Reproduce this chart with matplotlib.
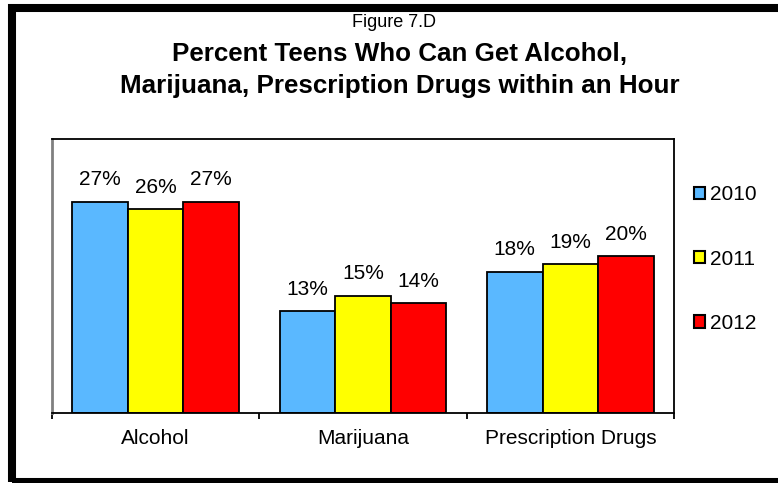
import numpy as np
import matplotlib
matplotlib.use("Agg")
import matplotlib.pyplot as plt
from matplotlib.patches import Rectangle, Patch

plt.rcParams['font.family'] = ['Liberation Sans', 'DejaVu Sans']

# data
categories = ['Alcohol', 'Marijuana', 'Prescription Drugs']
years = ['2010', '2011', '2012']
pct_2010 = [27, 13, 18]
pct_2011 = [26, 15, 19]
pct_2012 = [27, 14, 20]
colors = ['#5ab8ff', '#ffff00', '#ff0000']

series = [pct_2010, pct_2011, pct_2012]

fig = plt.figure(figsize=(7.78, 4.83), dpi=100)
ax = fig.add_axes([0.0668, 0.1449, 0.7995, 0.5673])

x = np.arange(len(categories))
w = 0.268
for i, vals in enumerate(series):
    bars = ax.bar(x + (i - 1) * w, vals, width=w, color=colors[i],
                  edgecolor='black', linewidth=1.3, label=years[i])
    for b, v in zip(bars, vals):
        ax.annotate('{}%'.format(v), (b.get_x() + b.get_width() / 2, v),
                    xytext=(0, 12), textcoords='offset points',
                    ha='center', va='baseline', fontsize=15)

ax.set_xlim(-0.5, 2.5)
ax.set_ylim(0, 35)
ax.set_yticks([])
ax.set_xticks(x)
ax.set_xticklabels(categories, fontsize=15)
ax.set_xticks([-0.5, 0.5, 1.5, 2.5], minor=True)
ax.tick_params(axis='x', which='major', length=0, pad=11.5)
ax.tick_params(axis='x', which='minor', length=4.5, width=1.3, direction='out')

for s in ['top', 'right', 'bottom']:
    ax.spines[s].set_color('black')
    ax.spines[s].set_linewidth(1.3)
ax.spines['left'].set_color('#808080')
ax.spines['left'].set_linewidth(2)

# titles
fig.text(394 / 778, 1 - 27 / 483, 'Figure 7.D', ha='center', va='baseline', fontsize=13)
fig.text(400 / 778, 1 - 61 / 483, 'Percent Teens Who Can Get Alcohol,', ha='center',
         va='baseline', fontsize=18.7, fontweight='bold')
fig.text(400 / 778, 1 - 93 / 483, 'Marijuana, Prescription Drugs within an Hour',
         ha='center', va='baseline', fontsize=18.7, fontweight='bold')

# legend
handles = [Patch(facecolor=c, edgecolor='black', linewidth=1.5) for c in colors]
fig.legend(handles, years, loc='center left', bbox_to_anchor=(694 / 778, 1 - 259 / 483),
           frameon=False, fontsize=15, handlelength=0.53, handleheight=0.53,
           handletextpad=0.25, labelspacing=2.18, borderpad=0, borderaxespad=0)

# outer border
fig.patches.append(Rectangle((12 / 778, 1 - 482 / 483), 1.2, (482 - 8) / 483,
                             transform=fig.transFigure, fill=False,
                             edgecolor='black', linewidth=5.8, clip_on=False))

fig.savefig('out.png', dpi=100)
